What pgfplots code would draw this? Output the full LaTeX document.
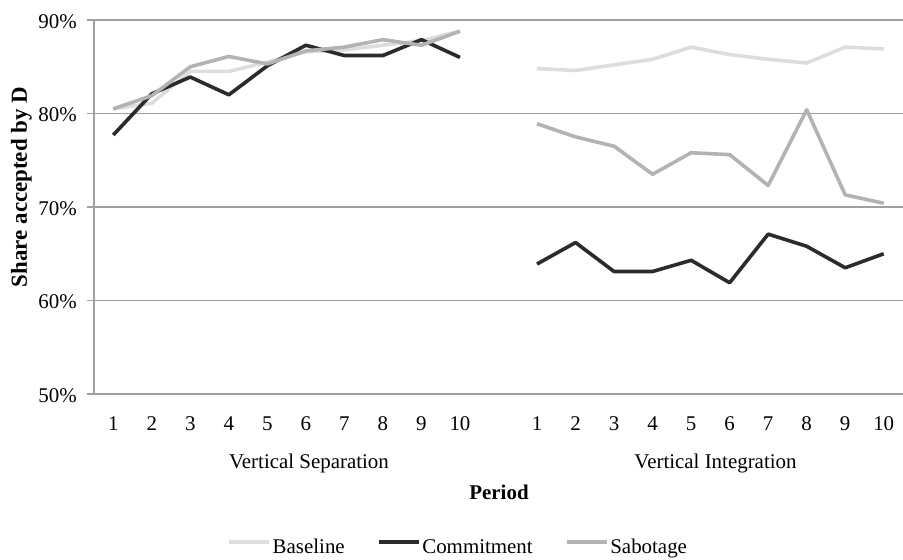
\documentclass[border=0pt]{standalone}
\usepackage{pgfplots}
\pgfplotsset{compat=1.18}
\usepackage{fontspec}
\setmainfont{Liberation Serif}

\definecolor{basecol}{HTML}{DDDDDD}
\definecolor{commitcol}{HTML}{2B2B2B}
\definecolor{sabotcol}{HTML}{B3B3B3}
\definecolor{gridgray}{HTML}{A0A0A0}

\newcommand{\chartfont}{\fontsize{21}{25}\selectfont}

\begin{document}
\begin{tikzpicture}[font=\chartfont]
	\begin{axis}[
			at={(0,0)}, anchor=south west,
			width=809bp, height=374bp, scale only axis,
			xmin=0.5, xmax=21.5,
			ymin=50, ymax=90,
			axis x line*=bottom, axis y line*=left,
			axis line style={gridgray, line width=1.2bp},
			xtick={1,2,3,4,5,6,7,8,9,10,12,13,14,15,16,17,18,19,20,21},
			xticklabels={1,2,3,4,5,6,7,8,9,10,1,2,3,4,5,6,7,8,9,10},
			ytick={50,60,70,80,90},
			yticklabels={50\%,60\%,70\%,80\%,90\%},
			ymajorgrids,
			grid style={gridgray, line width=1.2bp},
			x tick style={draw=none},
			y tick style={gridgray, line width=1.2bp},
			tick align=outside, major tick length=7bp,
			ticklabel style={font=\chartfont},
			xticklabel style={anchor=base, inner sep=0pt, yshift=-29bp},
			yticklabel style={anchor=east, inner sep=0pt, xshift=-10bp, yshift=-1.5bp},
			unbounded coords=jump,
			legend columns=3,
			legend style={draw=none, fill=none, font=\chartfont,
				at={(0.1606,-0.409)}, anchor=west,
				/tikz/every even column/.append style={column sep=30bp}},
			legend image code/.code={\draw[#1] (0bp,5bp) -- (40bp,5bp);},
			every axis plot/.append style={line width=3.6bp, mark=none, line join=round},
		]
		\addplot[basecol] coordinates {
			(1,80.5) (2,81.1) (3,84.5) (4,84.5) (5,85.5)
			(6,86.6) (7,86.8) (8,87.3) (9,87.8) (10,88.8)
			(11,nan)
			(12,84.8) (13,84.6) (14,85.2) (15,85.8) (16,87.1)
			(17,86.3) (18,85.8) (19,85.4) (20,87.1) (21,86.9)
		};
		\addplot[commitcol] coordinates {
			(1,77.7) (2,82.1) (3,83.9) (4,82.0) (5,85.1)
			(6,87.3) (7,86.2) (8,86.2) (9,87.9) (10,86.0)
			(11,nan)
			(12,63.9) (13,66.2) (14,63.1) (15,63.1) (16,64.3)
			(17,61.9) (18,67.1) (19,65.8) (20,63.5) (21,65.0)
		};
		\addplot[sabotcol] coordinates {
			(1,80.5) (2,81.9) (3,85.0) (4,86.1) (5,85.3)
			(6,86.7) (7,87.1) (8,87.9) (9,87.3) (10,88.8)
			(11,nan)
			(12,78.9) (13,77.5) (14,76.5) (15,73.5) (16,75.8)
			(17,75.6) (18,72.3) (19,80.4) (20,71.3) (21,70.4)
		};
		\legend{Baseline,Commitment,Sabotage}
	\end{axis}
	\node[anchor=base] at (215bp,-74bp) {Vertical Separation};
	\node[anchor=base] at (621.5bp,-74bp) {Vertical Integration};
	\node[anchor=base, font=\chartfont\bfseries] at (405bp,-105bp) {Period};
	\node[rotate=90, anchor=base, font=\fontsize{23}{27}\selectfont\bfseries] at (-67bp,207bp) {Share accepted by D};
	\pgfresetboundingbox
	\path[use as bounding box] (-94bp,-166bp) rectangle (809bp,394bp);
\end{tikzpicture}
\end{document}
